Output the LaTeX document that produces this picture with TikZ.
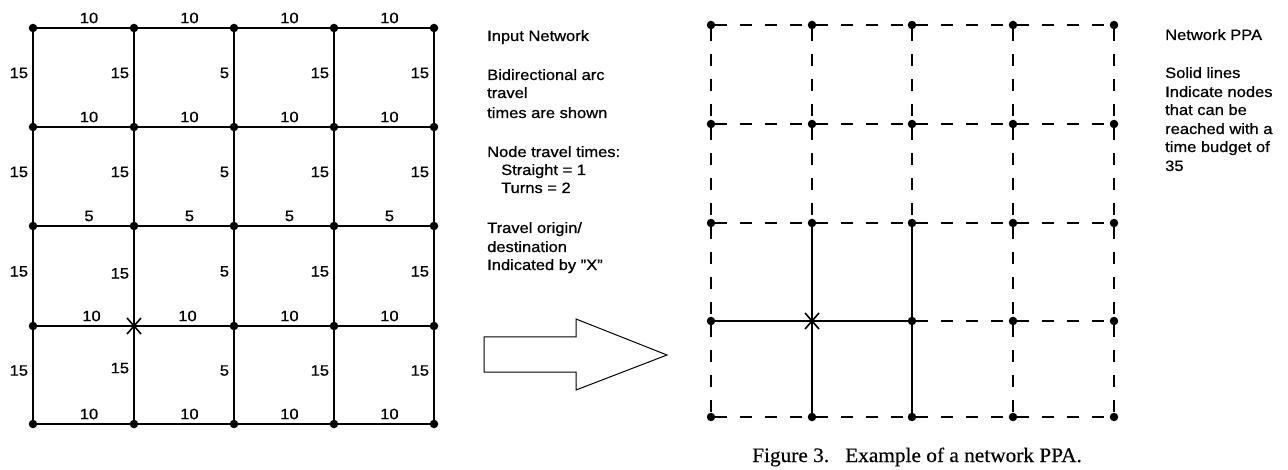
\documentclass[tikz,border=0pt]{standalone}
\usepackage{fontspec}
\setmainfont{Liberation Sans}[FakeStretch=1.1,FakeBold=0.7]
\newfontfamily\capfont{Liberation Serif}[FakeStretch=1.04,FakeBold=0.4]
\newcommand\lblfont{\fontsize{15}{18}\selectfont}
\newcommand\txtfont{\fontsize{15}{19}\selectfont}
\begin{document}
\begin{tikzpicture}[x=1pt,y=-1pt,
  dot/.style={circle,fill=black,inner sep=0pt,minimum size=8.5pt},
  grid/.style={line width=1.9pt},
  solidedge/.style={line width=1.9pt},
  dashedge/.style={line width=1.9pt,dash pattern=on 12pt off 13pt},
  hl/.style={pos=0.56,yshift=10pt,font=\lblfont,inner sep=0pt},
  vl/.style={pos=0.45,anchor=east,xshift=-4pt,font=\lblfont,inner sep=0pt},
  txt/.style={anchor=base west,inner sep=0pt,font=\txtfont},
  xmark/.style={line width=1.6pt}]
\fill[white] (0,0) rectangle (1288,470);
\useasboundingbox (0,0) rectangle (1288,470);

% ---------- left grid ----------
\foreach \c/\x in {0/33,1/134,2/234,3/334,4/434}{
  \foreach \r/\y in {0/28,1/127,2/226,3/326,4/424}{
    \ifnum\c\r=13 \coordinate (L\c\r) at (\x,\y);
    \else \node[dot] (L\c\r) at (\x,\y) {};\fi
  }}
\foreach \r/\w in {0/10,1/10,2/5,3/10,4/10}{
  \foreach \c [evaluate=\c as \n using int(\c+1)] in {0,...,3}{
    \draw[grid] (L\c\r) -- node[hl]{\w} (L\n\r);
  }}
\foreach \c/\w in {0/15,1/15,2/5,3/15,4/15}{
  \foreach \r [evaluate=\r as \n using int(\r+1)] in {0,...,3}{
    \draw[grid] (L\c\r) -- node[vl]{\w} (L\c\n);
  }}
\draw[xmark] ([shift={(-7,-8)}]L13) -- ([shift={(7,8)}]L13);
\draw[xmark] ([shift={(7,-8)}]L13) -- ([shift={(-7,8)}]L13);

% ---------- left texts ----------
\node[txt] (t1) at (487,41) {Input Network};
\node[txt] (t2) at (487,80) {Bidirectional arc};
\node[txt] (t3) at (487,98) {travel};
\node[txt] (t4) at (487,118) {times are shown};
\node[txt] (t5) at (487,157) {Node travel times:};
\node[txt] (t6) at (501,175) {Straight = 1};
\node[txt] (t7) at (501,193) {Turns = 2};
\node[txt] (t8) at (487,233) {Travel origin/};
\node[txt] (t9) at (487,252) {destination};
\node[txt] (t10) at (487,270) {Indicated by \char"22 X\char"22};

% ---------- big arrow ----------
\draw[line width=1pt] (484,337) -- (576,337) -- (576,319) -- (667,355)
  -- (576,390) -- (576,372) -- (484,372) -- cycle;

% ---------- right grid ----------
\foreach \c/\x in {0/711,1/812,2/912,3/1013,4/1114}{
  \foreach \r/\y in {0/25,1/124,2/223,3/321,4/417}{
    \ifnum\c\r=13 \coordinate (R\c\r) at (\x,\y);
    \else \node[dot] (R\c\r) at (\x,\y) {};\fi
  }}
\foreach \r in {0,...,4}{
  \foreach \c [evaluate=\c as \n using int(\c+1)] in {0,...,3}{
    \pgfmathtruncatemacro\s{and(\r==3,\c<2)}
    \ifnum\s=1 \draw[solidedge] (R\c\r) -- (R\n\r);
    \else \draw[dashedge] (R\c\r) -- (R\n\r);\fi
  }}
\foreach \c in {0,...,4}{
  \foreach \r [evaluate=\r as \n using int(\r+1)] in {0,...,3}{
    \pgfmathtruncatemacro\s{and(or(\c==1,\c==2),\r>=2)}
    \ifnum\s=1 \draw[solidedge] (R\c\r) -- (R\c\n);
    \else \draw[dashedge] (R\c\r) -- (R\c\n);\fi
  }}
\draw[xmark] ([shift={(-7,-8)}]R13) -- ([shift={(7,8)}]R13);
\draw[xmark] ([shift={(7,-8)}]R13) -- ([shift={(-7,8)}]R13);

% ---------- right texts ----------
\node[txt] (u1) at (1165,40) {Network PPA};
\node[txt] (u2) at (1165,78) {Solid lines};
\node[txt] (u3) at (1165,97) {Indicate nodes};
\node[txt] (u4) at (1165,115) {that can be};
\node[txt] (u5) at (1165,134) {reached with a};
\node[txt] (u6) at (1165,152) {time budget of};
\node[txt] (u7) at (1165,171) {35};

% ---------- caption ----------
\node[anchor=base west,inner sep=0pt,font=\capfont\fontsize{20.5}{24}\selectfont]
  (cap) at (752,462) {Figure 3.\hspace{16pt}Example of a network PPA.};
\end{tikzpicture}
\end{document}
